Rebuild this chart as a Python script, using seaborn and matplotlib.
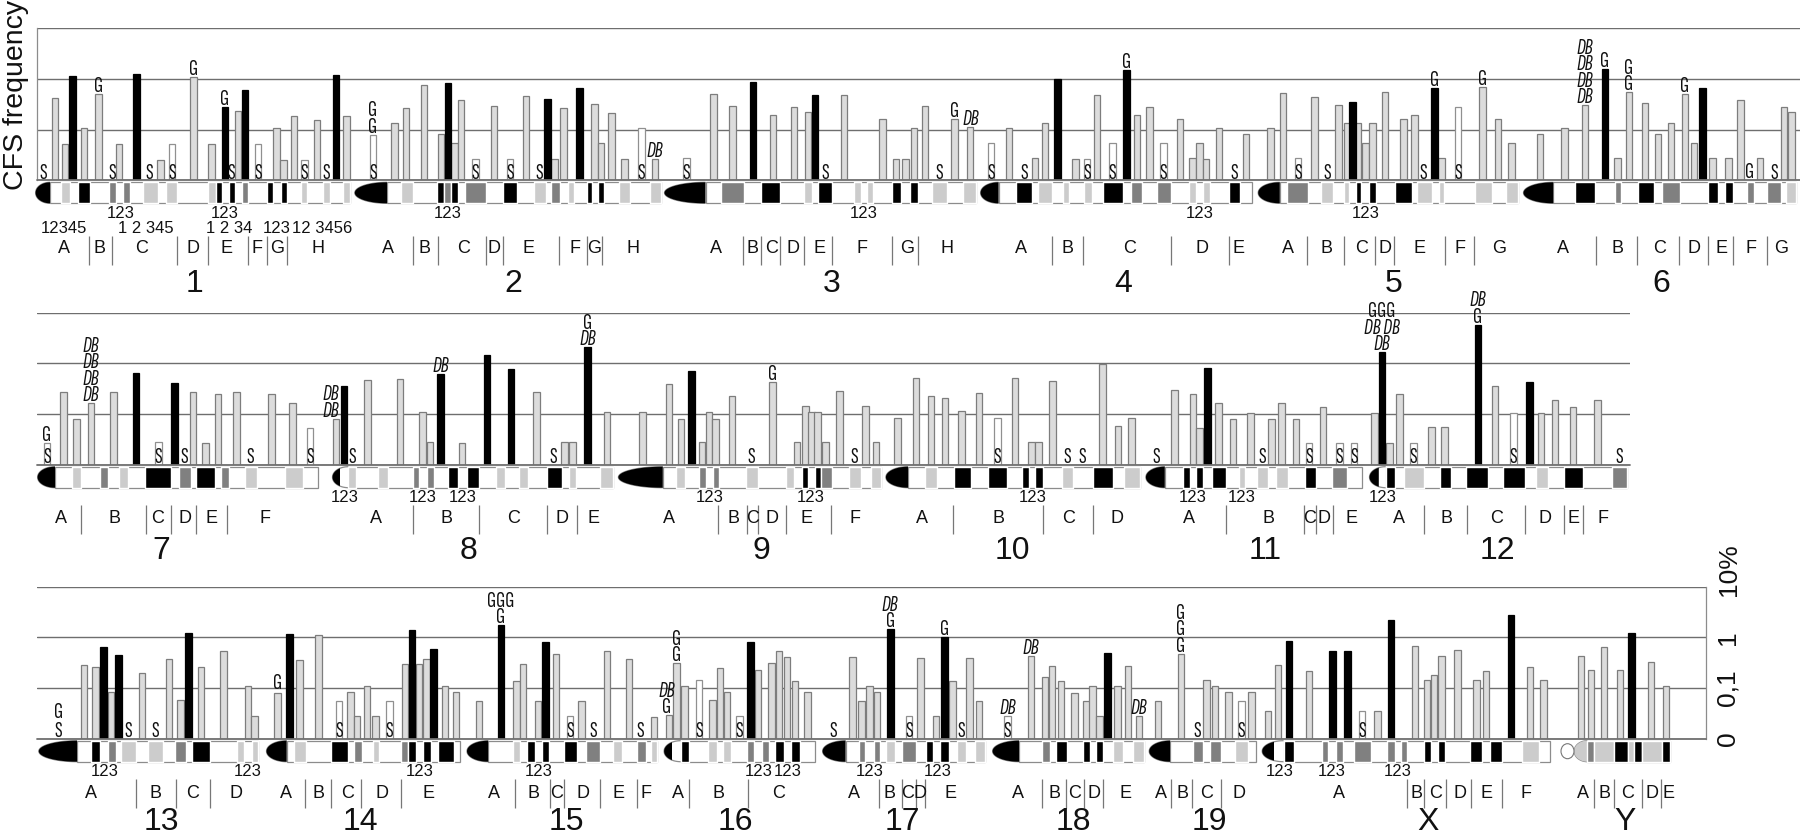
import numpy as np
import pandas as pd
import matplotlib
matplotlib.use("Agg")
import matplotlib.pyplot as plt
from matplotlib.patches import Polygon, Ellipse, Rectangle
import seaborn as sns

# 1. DATA
# freq = reading on the axis, 0 = "0", 1 = "0,1", 2 = "1", 3 = "10%"
# pos = place along the row of chromosomes

# ---- top row, chromosomes 1-6
row1_pos = [55.1, 65, 72.7, 83.8, 98.7, 119, 136.2, 160.7, 171.8, 193.3, 211.6, 225, 238, 244.9, 258, 276.7, 283.2, 293.9, 304.2, 316.9, 336, 346.3,
            372.8, 394.2, 406, 424, 440.9, 447.8, 454.3, 460.8, 475.3, 494, 509.8, 525.8, 547.6, 554.5, 563.3, 579.4, 594.7, 601, 611.3, 624.3, 641.6, 655,
            686.7, 713.5, 732.3, 752.9, 772.8, 793.9, 808, 814.9, 844, 882.3, 896, 905.2, 914, 925.1, 954.6, 969.9,
            991, 1009, 1035, 1044.9, 1057.6, 1075.5, 1087, 1097, 1112.7, 1126.4, 1136.8, 1149.4, 1163.2, 1179.9, 1192.7, 1199.3, 1206, 1218.8, 1245.8,
            1270.2, 1283.1, 1298, 1314.6, 1338.2, 1346.9, 1352.7, 1358.1, 1365.2, 1372.6, 1385, 1403.3, 1414.5, 1434.4, 1441.5, 1458, 1482.5, 1497.8, 1511.5,
            1540.1, 1564.6, 1584.9, 1604.8, 1617.7, 1628.9, 1645, 1657.9, 1670.8, 1684.8, 1694, 1702.2, 1712.6, 1728.4, 1740.4, 1759.9, 1783.9, 1791.4]
row1_freq = [1.62, .71, 2.06, 1.03, 1.70, .71, 2.10, .41, .71, 2.03, .71, 1.45, 1.37, 1.78, .71, 1.03, .41, 1.26, .41, 1.19, 2.07, 1.26,
             .90, 1.13, 1.43, 1.89, .91, 1.93, .73, 1.58, .43, 1.46, .43, 1.66, 1.61, .43, 1.43, 1.82, 1.51, .73, 1.32, .42, 1.03, .42,
             .44, 1.70, 1.47, 1.95, 1.28, 1.44, 1.34, 1.69, 1.68, 1.21, .43, .43, 1.04, 1.47, 1.22, 1.05,
             .73, 1.03, .44, 1.13, 2.0, .43, .43, 1.69, .73, 2.17, 1.28, 1.44, .73, 1.21, .44, .73, .43, 1.03, .91,
             1.04, 1.72, .44, 1.64, 1.48, 1.14, 1.55, 1.14, .73, 1.14, 1.74, 1.21, 1.28, 1.82, .44, 1.44, 1.84, 1.21, .73,
             .91, 1.04, 1.48, 2.19, .44, 1.74, 1.52, .91, 1.14, 1.70, .74, 1.82, .44, .44, 1.59, .44, 1.44, 1.34]
row1_black = [72.7, 136.2, 225, 244.9, 336, 447.8, 547.6, 579.4, 752.9, 814.9, 1057.6, 1126.4, 1352.7, 1434.4, 1604.8, 1702.2]
row1_white = [171.8, 258, 304.2, 372.8, 475.3, 509.8, 641.6, 686.7, 991, 1087, 1112.7, 1163.2, 1298, 1458]
row1_s_only = [42.9, 112, 149.6, 231.5, 326, 539.6, 824.9, 938.9, 1023.9, 1234.2, 1327, 1423.6, 1774]
row1_stacks = [(98.7, 1.70, ["G"]), (193.3, 2.03, ["G"]), (225, 1.45, ["G"]), (372.8, .90, ["G", "G"]), (655, .42, ["DB"]),
               (954.6, 1.22, ["G"]), (970.7, 1.05, ["DB"]), (1126.4, 2.17, ["G"]), (1434.4, 1.82, ["G"]), (1482.5, 1.84, ["G"]),
               (1584.9, 1.48, ["DB", "DB", "DB", "DB"]), (1604.8, 2.19, ["G"]), (1628.9, 1.74, ["G", "G"]), (1684.8, 1.70, ["G"]), (1749.9, 0, ["G"])]
# start, end, shade of the ideogram bands
row1_bands = [(61.2, 69.7, "l"), (78, 89.6, "k"), (109, 116.3, "m"), (122.8, 130, "m"), (142.7, 157.7, "l"), (165.7, 177.2, "l"), (208, 215.5, "l"), (215.5, 222, "k"), (228.5, 234.6, "k"), (241.9, 248, "m"), (267, 273.2, "k"), (280.5, 287, "k"), (301.2, 307, "l"), (323, 330, "l"), (343.3, 350, "l"),
              (400.7, 412.6, "l"), (437.4, 443.9, "k"), (443.9, 451.2, "m"), (451.2, 457.7, "k"), (464.6, 486, "m"), (502.9, 517, "k"), (533.5, 546, "l"), (551, 559.5, "m"), (568, 573.7, "l"), (586.7, 592.4, "k"), (597.6, 604.4, "k"), (618.6, 629.7, "l"), (649.6, 661, "l"),
              (721.2, 744.1, "m"), (761.4, 780.1, "k"), (804.2, 811.9, "l"), (817.6, 832.2, "k"), (853.6, 860.5, "l"), (866.6, 872.7, "l"), (891.9, 900.6, "k"), (910.2, 918.3, "k"), (932.4, 946.6, "l"), (963.4, 975.7, "l"),
              (1015.8, 1032.3, "k"), (1037.7, 1051.8, "l"), (1063.3, 1068.7, "l"), (1083.6, 1091.6, "l"), (1102.7, 1122.6, "k"), (1131, 1142.1, "m"), (1156.5, 1170.6, "m"), (1189.4, 1196, "l"), (1203, 1209.7, "l"), (1228.8, 1240, "k"),
              (1287.2, 1307.5, "m"), (1321.2, 1332.8, "l"), (1344, 1349.4, "l"), (1355.6, 1361.4, "k"), (1368.9, 1375.5, "k"), (1395, 1412, "k"), (1417.4, 1431.9, "l"), (1438.6, 1444.4, "l"), (1475, 1491.6, "l"), (1505.7, 1517.7, "l"),
              (1575.4, 1595.3, "k"), (1614.8, 1621.4, "m"), (1637.6, 1654.2, "k"), (1662.4, 1679.9, "m"), (1708, 1717.6, "k"), (1724.6, 1733.3, "k"), (1747, 1753.7, "m"), (1766.9, 1781, "m"), (1786, 1796, "l")]
# start, end, end of black cap, end of round tip
row1_chroms = [(35.6, 350, 50, 50), (354.8, 661, 387, 387), (664.5, 975.7, 705.5, 705.5), (980.6, 1251.6, 998.6, 998.6), (1258.2, 1517.7, 1279.8, 1279.8), (1523.5, 1796, 1553.4, 1553.4)]
row1_seps = [89.2, 111.7, 177.2, 208.2, 247.6, 266.7, 287, 412.6, 437.8, 485.7, 502.9, 559.1, 587.3, 601.8,
             743.4, 761, 779.7, 804.2, 831.8, 892.2, 917.9, 1051.8, 1082.8, 1170.7, 1228.8,
             1307.1, 1344, 1375.1, 1394.2, 1444.8, 1473.8, 1595.7, 1637.2, 1679.4, 1708, 1732.9, 1767.3]
row1_letters = list("ABCDEFGH") + list("ABCDEFGH") + list("ABCDEFGH") + list("ABCDE") + list("ABCDEFG") + list("ABCDEFG")
row1_letter_pos = [64.3, 99.9, 142, 192.5, 226.9, 256.8, 276.7, 318.4, 388, 424.8, 463.4, 494.4, 528.9, 574.8, 594.5, 633.1,
                   715.8, 752.9, 771.7, 793.1, 819.1, 862, 906.8, 947, 1021.2, 1067.1, 1129.9, 1202.2, 1238.7,
                   1287.6, 1326.6, 1361.4, 1384.7, 1419.5, 1460.5, 1498.7, 1562.5, 1617.2, 1659.5, 1694, 1721.3, 1750.7, 1781]
row1_names = ["1", "2", "3", "4", "5", "6"]
row1_name_pos = [194, 513, 832, 1123, 1394, 1661]
row1_sub_pos = [121, 225, 448, 863.5, 1199.8, 1365.2]
row1_sub2 = ["12345", "1 2 345", "1 2 34", "123", "12 3456"]
row1_sub2_pos = [64.3, 146.2, 228.9, 276.5, 322.5]

# ---- middle row, chromosomes 7-12
row2_pos = [47, 63.7, 76.7, 90.9, 113.5, 136, 158.2, 174.4, 193, 205.6, 217.9, 236.5, 271.6, 292.2, 310,
            336.1, 344, 367.7, 399.8, 422.7, 429.8, 440.5, 461.8, 486.8, 510.9, 536.6, 564.6, 572.2, 587.6, 607,
            642.5, 668.9, 680.8, 691.5, 701.8, 709.1, 715.2, 732.1, 772.3, 796.8, 805.2, 811.3, 817.4, 825.5, 839.6, 865.6, 876,
            897.4, 915.8, 931.1, 944.9, 961.7, 978.9, 997.3, 1014.9, 1031.7, 1038.6, 1052.4, 1102.5, 1117.8, 1131.6,
            1174.4, 1193, 1199.7, 1207.3, 1218.6, 1232.8, 1250.4, 1271.3, 1281.2, 1295.8, 1309.1, 1323, 1339.3, 1353.9,
            1374.4, 1382.1, 1389.7, 1399.7, 1413.2, 1431.5, 1444.4, 1477.9, 1494.8, 1513.4, 1529.3, 1540.9, 1554.9, 1572.8, 1597.7]
row2_freq = [.43, 1.43, .91, 1.21, 1.43, 1.82, .44, 1.61, 1.43, .43, 1.39, 1.43, 1.39, 1.21, .73,
             .91, 1.55, 1.68, 1.70, 1.05, .44, 1.80, .43, 2.17, 1.89, 1.44, .44, .44, 2.32, 1.05,
             1.05, 1.59, .91, 1.85, .45, 1.05, .91, 1.35, 1.64, .45, 1.15, 1.05, 1.05, .45, 1.45, 1.15, .45,
             .93, 1.72, 1.36, 1.31, 1.06, 1.41, .93, 1.72, .45, .45, 1.66, 1.98, .76, .93,
             1.47, 1.39, .73, 1.91, 1.21, .91, 1.03, .91, 1.21, .91, .43, 1.13, .43, .43,
             1.03, 2.22, .43, 1.39, .43, .74, .74, 2.76, 1.55, 1.03, 1.64, 1.03, 1.28, 1.13, 1.28]
row2_black = [136, 174.4, 344, 440.5, 486.8, 510.9, 587.6, 691.5, 1207.3, 1382.1, 1477.9, 1529.3]
row2_white = [47, 158.2, 310, 997.3, 1309.1, 1339.3, 1353.9, 1413.2, 1513.4]
row2_s_only = [183.9, 250.7, 351.9, 553.6, 751.6, 854.2, 1067.3, 1082.6, 1156.2, 1262, 1619.6]
row2_stacks = [(47, .43, ["G"]), (90.9, 1.21, ["DB", "DB", "DB", "DB"]), (331, .91, ["DB", "DB"]), (440.5, 1.80, ["DB"]), (587.6, 2.32, ["DB", "G"]),
               (772.3, 1.64, ["G"]), (1382, 2.22, ["DB", "DB DB", "GGG"]), (1477.9, 2.76, ["G", "DB"])]
row2_bands = [(72.4, 81, "l"), (100.4, 108.3, "m"), (119.4, 128.1, "l"), (145.1, 170.8, "k"), (178.7, 190.6, "m"), (195.7, 214.7, "k"), (221, 228.5, "m"), (245.2, 257.4, "l"), (284.7, 302.9, "l"),
              (348.4, 356.3, "l"), (378.4, 387.9, "l"), (412.8, 419.1, "m"), (426.6, 433.8, "m"), (447.6, 457.5, "k"), (467, 478.5, "k"), (495.5, 504.6, "l"), (518.8, 527.5, "l"), (546.9, 561.5, "k"), (569, 575.7, "l"), (600.2, 612.5, "l"),
              (676.2, 684.6, "l"), (698.8, 705.7, "m"), (712.6, 718.7, "m"), (746.2, 757.7, "l"), (786, 794.1, "l"), (801.7, 808.2, "k"), (814.7, 820.9, "k"), (820.9, 832, "m"), (849.2, 860.7, "l"), (871.4, 880.6, "l"),
              (925.3, 937.2, "l"), (954, 970.5, "k"), (988.1, 1007.2, "k"), (1021.8, 1028.7, "k"), (1035.2, 1042.5, "k"), (1061.6, 1073.4, "l"), (1093, 1112.9, "k"), (1124.4, 1140, "l"),
              (1182.7, 1190, "k"), (1196.3, 1203.3, "k"), (1211.6, 1225.5, "k"), (1238.8, 1245.1, "l"), (1256.7, 1268, "l"), (1275.6, 1287.9, "l"), (1304.5, 1315.7, "k"), (1332.3, 1346.9, "m"),
              (1385.7, 1395, "k"), (1404.3, 1423.9, "l"), (1439.5, 1451, "k"), (1466.3, 1488.2, "k"), (1502.5, 1524.7, "k"), (1536.3, 1547.6, "l"), (1564.2, 1583, "k"), (1611.9, 1627.2, "m")]
row2_chroms = [(37.6, 317.5, 55, 55), (332.5, 612.5, 340, 348.4), (618.4, 880.6, 662.8, 662.8), (885.9, 1140, 908.1, 908.1), (1145.9, 1362.2, 1164.8, 1164.8), (1369.5, 1627.2, 1378.8, 1385.7)]
row2_seps = [81, 145.5, 170.8, 195.7, 227, 413.2, 478.8, 546.5, 576.5, 718.3, 746.6, 758.1, 786, 831.2, 953.3, 1042.8, 1092.6,
             1225.9, 1304.1, 1315.7, 1332.7, 1423.9, 1467.3, 1524.7, 1564.2, 1583.4]
row2_letters = list("ABCDEF") + list("ABCDE") + list("ABCDEF") + list("ABCD") + list("ABCDE") + list("ABCDEF")
row2_letter_pos = [60.5, 114.7, 157.4, 184.7, 211.1, 265.3, 376, 446.8, 513.6, 562.3, 593.9, 668.6, 733.2, 752.4, 772.3, 806.3, 855.3,
                   921.5, 998.4, 1068.1, 1117.5, 1189.4, 1268.3, 1309.8, 1324, 1351.2, 1399, 1446.1, 1496.5, 1544.6, 1573.8, 1603.3]
row2_names = ["7", "8", "9", "10", "11", "12"]
row2_name_pos = [161, 468.5, 761, 1012.6, 1265, 1497]
row2_sub_pos = [344.8, 423.1, 462.2, 709.9, 810.9, 1032.5, 1193, 1241.8, 1383]

# ---- bottom row, chromosomes 13-19, X, Y
row3_pos = [83.8, 95.3, 103.6, 111.1, 118.6, 142, 168.8, 180.3, 188.6, 200.9, 223.4, 247.9, 254.6,
            277.2, 289.4, 299.3, 318.7, 338.9, 350.3, 357, 366.9, 375.6, 389.5, 404.9, 412, 419.1, 426.2, 433.4, 444.8, 455.9,
            478.8, 501, 516.4, 523.1, 537.8, 545.3, 555.9, 569.8, 581.7, 607, 628.9, 653.8,
            668.8, 676.3, 684.6, 698.9, 712.3, 719.8, 726.9, 739.2, 750.7, 757.8, 771.6, 779.1, 787, 794.9, 807.6,
            852.7, 861.4, 869.7, 876.8, 890.2, 908.8, 920.3, 936.1, 944.4, 952.3, 969.7, 978.8,
            1007.3, 1031, 1044.8, 1052, 1061, 1074.5, 1086.4, 1092.7, 1099.4, 1107.7, 1117.6, 1127.9, 1139,
            1157.9, 1180.9, 1206.2, 1214.9, 1228.6, 1241.7, 1251.6,
            1267.8, 1278.1, 1289.1, 1308.9, 1332.2, 1347.7, 1361.9, 1377.7, 1391.1, 1414.9, 1427.1, 1433.9, 1441.4, 1457.2, 1476.2, 1486, 1511, 1530, 1543.4,
            1581, 1590.8, 1603.9, 1620.1, 1631.2, 1651, 1666]
row3_freq = [1.45, 1.41, 1.82, .93, 1.66, 1.30, 1.57, .76, 2.09, 1.41, 1.74, 1.05, .45,
             .91, 2.07, 1.56, 2.04, .74, .92, .44, 1.05, .44, .74, 1.48, 2.14, 1.48, 1.57, 1.78, 1.05, .92,
             .74, 2.24, 1.13, 1.48, .74, 1.91, 1.67, .44, .74, 1.74, 1.58, .43,
             .46, 1.49, 1.05, 1.15, .76, 1.40, .93, .45, 1.91, 1.35, 1.50, 1.74, 1.62, 1.14, .93,
             1.62, .75, 1.05, .93, 2.16, .45, 1.60, .45, 2.0, 1.14, 1.60, .75,
             .45, 1.64, 1.22, 1.44, 1.14, .91, .75, 1.05, .44, 1.69, 1.05, 1.44, .44,
             .75, 1.68, 1.15, 1.05, .93, .75, .93,
             .55, 1.46, 1.93, 1.34, 1.74, 1.74, .55, .55, 2.34, 1.84, 1.16, 1.26, 1.64, 1.76, 1.16, 1.33, 2.44, 1.41, 1.16,
             1.64, 1.36, 1.82, 1.36, 2.09, 1.52, 1.05]
row3_black = [103.6, 118.6, 188.6, 289.4, 412, 433.4, 501, 545.3, 750.7, 890.2, 944.4, 1107.7, 1289.1, 1332.2, 1347.7, 1391.1, 1511, 1631.2]
row3_white = [338.9, 389.5, 569.8, 698.9, 739.2, 908.8, 1007.3, 1241.7, 1361.9]
row3_s_only = [58.5, 128.5, 155, 593.1, 640.7, 833.7, 961.4, 1197.5]
row3_stacks = [(58.5, .37, ["G"]), (277.2, .95, ["G"]), (501, 2.24, ["G", "GGG"]), (667, .46, ["G", "DB"]), (676.3, 1.49, ["G", "G"]),
               (890.2, 2.16, ["G", "DB"]), (944.4, 2.0, ["G"]), (1007.3, .45, ["DB"]), (1031, 1.64, ["DB"]), (1139, .44, ["DB"]), (1180.9, 1.68, ["G", "G", "G"])]
row3_bands = [(90.9, 100, "k"), (107.6, 115.9, "m"), (121.4, 135.6, "l"), (148.3, 162.5, "l"), (175.2, 185.8, "m"), (191.8, 209.6, "k"), (236.5, 244, "l"), (251.9, 257.8, "l"),
              (293.8, 305.7, "l"), (330.6, 347.6, "k"), (353.5, 362.2, "m"), (372.9, 378.8, "l"), (401, 408.1, "m"), (408.1, 415.6, "k"), (423.1, 430.6, "k"), (437.7, 453.5, "k"),
              (513.3, 519.6, "l"), (527.1, 535, "k"), (541.7, 549.2, "k"), (563.5, 577.3, "k"), (586.4, 600.2, "m"), (613.4, 621.7, "l"), (637.2, 645.9, "m"), (650.6, 656.9, "l"),
              (680.7, 688.6, "k"), (708.3, 717, "l"), (723, 731.3, "l"), (747.1, 754.2, "m"), (761.7, 768.8, "m"), (774.8, 783.9, "k"), (791.4, 799.7, "k"),
              (859, 864.9, "m"), (873.6, 879.6, "m"), (886.3, 895, "l"), (901.7, 915.9, "m"), (925.8, 933.3, "k"), (940, 949.2, "k"), (957, 965.8, "l"), (974.5, 984.7, "l"),
              (1041.7, 1050.4, "m"), (1055.5, 1066.6, "k"), (1083.2, 1089.9, "k"), (1095.9, 1102.6, "k"), (1113.3, 1122.7, "l"), (1133.4, 1143.7, "l"),
              (1192.5, 1203, "m"), (1210, 1221, "m"), (1235.4, 1248, "l"),
              (1283.6, 1294.3, "k"), (1322, 1327.9, "m"), (1336.2, 1342.5, "m"), (1354, 1371, "m"), (1387.2, 1395.1, "m"), (1401, 1407.4, "m"), (1424, 1431.1, "k"), (1437.8, 1444.9, "k"), (1470.2, 1482.1, "k"), (1489.6, 1501.5, "k"), (1521.6, 1538.6, "l"),
              (1587.3, 1594.4, "m"), (1594.4, 1613.8, "l"), (1613.8, 1628.4, "k"), (1628.4, 1633.9, "l"), (1633.9, 1641.9, "k"), (1641.9, 1661.6, "l"), (1661.6, 1670.3, "k")]
row3_chroms = [(38.8, 257.8, 77.1, 77.1), (266.5, 459.5, 286.7, 286.7), (467, 657, 488.3, 488.3), (664.1, 815.1, 672, 680.7), (822.6, 984.7, 845.6, 845.6),
               (992.6, 1143.7, 1019.1, 1019.1), (1149.2, 1255.5, 1170.2, 1170.2), (1262.2, 1549.7, 1274, 1283.6)]
row3_y_arm = (1574.2, 1670.3, 1587.3, 1587.3)
row3_y_dot = 1567.5
row3_seps = [135.6, 175.6, 210, 305.3, 331.4, 361.4, 401.3, 514.8, 550, 563.5, 600.2, 636.8, 688.6, 747.5, 879.2, 901.7, 915.9, 925.4,
             1041.7, 1065.8, 1083.6, 1102.6, 1170.6, 1192.3, 1221.1, 1407.4, 1424.4, 1445.7, 1471, 1501.5, 1594.4, 1613.8, 1642.2, 1661.2]
row3_letters = list("ABCD") + list("ABCDE") + list("ABCDEF") + list("ABC") + list("ABCDE") + list("ABCDE") + list("ABCD") + list("ABCDEF") + list("ABCDE")
row3_letter_pos = [90.5, 155.8, 193, 236.1, 286.3, 318.3, 347.2, 381.6, 428.6, 493.5, 533.4, 556.7, 582.5, 618.6, 646.3, 677.5, 719, 778.7,
                   853.5, 889.8, 907.6, 920.3, 950, 1018, 1054.3, 1074.9, 1094.3, 1125.5, 1160.7, 1182.4, 1206.1, 1238.5,
                   1339, 1416, 1435.4, 1460.3, 1486.8, 1526, 1583.3, 1605, 1627.6, 1652.1, 1668]
row3_names = ["13", "14", "15", "16", "17", "18", "19", "X", "Y"]
row3_name_pos = [161, 360, 566.6, 735, 902.5, 1073.7, 1208.9, 1427.9, 1625.2]
row3_sub_pos = [104.4, 247.9, 419.5, 538.2, 758.2, 787.8, 869.7, 937.3, 1279.2, 1331.4, 1397.5]

tick_levels = [0, 1, 2, 3]
tick_labels = ["0", "0,1", "1", ""]
top_tick_label = "10%"

# 2. STYLE
W, H = 1800, 836
UNIT = 50.65
BAR_W = 6.6
FLAG_SIZE = 16
SHADES = {"k": "#000000", "m": "#808080", "l": "#cccccc"}
TXT = "#111111"

sns.set_theme(style="white", rc={"axes.grid": False})
plt.rcParams["font.family"] = ["Liberation Sans", "DejaVu Sans"]
NARROW = ["Sofia Sans Extra Condensed", "Liberation Sans Narrow", "Liberation Sans"]


def draw_bars(ax, df, color, edge):
    # native_scale width is relative to the smallest gap between positions
    gaps = np.diff(np.unique(df["pos"]))
    step = gaps.min() if len(gaps) else 1
    sns.barplot(data=df, x="pos", y="freq", native_scale=True, orient="x", width=BAR_W / step,
                color=color, saturation=1, edgecolor=edge, linewidth=0.9, errorbar=None, ax=ax)


def draw_ideogram(ax, chrom, bands, cap_color="black"):
    start, end, cap_end, tip_end = chrom
    y0, y1 = -23 / UNIT, -2 / UNIT
    mid, half = (y0 + y1) / 2, (y1 - y0) / 2
    ax.add_patch(Rectangle((tip_end, y0), end - tip_end, y1 - y0, fc="white", ec="#8c8c8c", lw=0.9, clip_on=False))
    t = np.linspace(np.pi / 2, 3 * np.pi / 2, 50)
    xs = tip_end + (tip_end - start) * np.cos(t)
    ys = mid + half * np.sin(t)
    ax.add_patch(Polygon(np.c_[xs, ys], closed=False, fc="white", ec="#8c8c8c", lw=0.9, clip_on=False))
    ax.add_patch(Polygon(np.c_[np.minimum(xs, cap_end), ys], fc=cap_color, ec="none", clip_on=False))
    inside = [b for b in bands if start <= b[0] and b[1] <= end]
    ax.broken_barh([(b[0], b[1] - b[0]) for b in inside], (y0, y1 - y0),
                   facecolors=[SHADES[b[2]] for b in inside], clip_on=False, zorder=3)


def draw_row(ax, pos, freq, black, white, s_only, stacks, bands, chroms, seps, letters, letter_pos,
             names, name_pos, sub_pos, x_max, letter_off, sep_off, name_off):
    df = pd.DataFrame({"pos": pos, "freq": freq})
    df["kind"] = "grey"
    df.loc[df["pos"].isin(white), "kind"] = "white"
    df.loc[df["pos"].isin(black), "kind"] = "black"
    draw_bars(ax, df[df["kind"] == "white"], "white", "#909090")
    draw_bars(ax, df[df["kind"] == "grey"], "#dcdcdc", "#7d7d7d")
    draw_bars(ax, df[df["kind"] == "black"], "black", "black")

    ax.set_xlim(36.5, x_max)
    ax.set_ylim(0, 3)
    ax.set_xlabel("")
    ax.set_ylabel("")
    ax.set_xticks([])
    ax.set_yticks(tick_levels)
    ax.set_yticklabels([])
    ax.tick_params(axis="y", length=0)
    ax.set_axisbelow(True)
    ax.grid(axis="y", color="#6e6e6e", lw=1.0)
    for side in ax.spines:
        ax.spines[side].set_visible(False)
    ax.axhline(0, color="#707070", lw=1.3, zorder=4, clip_on=False)

    for x in list(s_only) + list(white):
        ax.text(x, 1.5 / UNIT, "S", family=NARROW, fontsize=FLAG_SIZE, ha="center", va="baseline", color=TXT, zorder=5)
    for x, top, labels in stacks:
        for i, lab in enumerate(labels):
            is_db = "DB" in lab
            ax.text(x, top + (2 + 16.5 * i) / UNIT, lab, family=NARROW, fontsize=FLAG_SIZE, ha="center", va="baseline",
                    style="italic" if is_db else "normal", color=TXT, zorder=5)

    for chrom in chroms:
        draw_ideogram(ax, chrom, bands)

    ax.vlines(seps, -sep_off[1] / UNIT, -sep_off[0] / UNIT, color="#777777", lw=0.9, clip_on=False)
    for x, lab in zip(letter_pos, letters):
        ax.text(x, -letter_off / UNIT, lab, fontsize=13, ha="center", va="center", color=TXT)
    for x, lab in zip(name_pos, names):
        ax.text(x, -name_off / UNIT, lab, fontsize=23, ha="center", va="center", color=TXT)
    for x in sub_pos:
        ax.text(x, -33 / UNIT, "123", fontsize=12, ha="center", va="center", color=TXT)


def row_axes(x_max, baseline):
    height = 3 * UNIT
    return fig.add_axes([36.5 / W, 1 - baseline / H, (x_max - 36.5) / W, height / H])


# 3. DRAW
fig = plt.figure(figsize=(18, 8.36), dpi=100)
ax1 = row_axes(1800, 180.3)
ax2 = row_axes(1629.5, 464.7)
ax3 = row_axes(1706, 738.7)

draw_row(ax1, row1_pos, row1_freq, row1_black, row1_white, row1_s_only, row1_stacks, row1_bands, row1_chroms,
         row1_seps, row1_letters, row1_letter_pos, row1_names, row1_name_pos, row1_sub_pos, 1800, 68, (56, 85), 104)
draw_row(ax2, row2_pos, row2_freq, row2_black, row2_white, row2_s_only, row2_stacks, row2_bands, row2_chroms,
         row2_seps, row2_letters, row2_letter_pos, row2_names, row2_name_pos, row2_sub_pos, 1629.5, 54, (40, 69), 86)
draw_row(ax3, row3_pos, row3_freq, row3_black, row3_white, row3_s_only, row3_stacks, row3_bands, row3_chroms,
         row3_seps, row3_letters, row3_letter_pos, row3_names, row3_name_pos, row3_sub_pos, 1706, 55, (40, 69), 83.5)

# second line of band numbers, only under chromosome 1
for x, lab in zip(row1_sub2_pos, row1_sub2):
    ax1.text(x, -48 / UNIT, lab, fontsize=12, ha="center", va="center", color=TXT)

# Y chromosome has a grey arm and a small open circle
draw_ideogram(ax3, row3_y_arm, row3_bands, cap_color=SHADES["l"])
ax3.add_patch(Ellipse((row3_y_dot, -12.5 / UNIT), 13, 15 / UNIT, fc="white", ec="#777777", lw=0.8, clip_on=False))

# left axis with its title
ax1.spines["left"].set_visible(True)
ax1.spines["left"].set_color("#8c8c8c")
ax1.spines["left"].set_linewidth(0.9)
ax1.set_ylabel("CFS frequency", fontsize=20.5, loc="bottom", color=TXT)
ax1.yaxis.set_label_coords(-0.0042, -0.064)

# right axis with the scale
ax3.spines["right"].set_visible(True)
ax3.spines["right"].set_color("#8c8c8c")
ax3.spines["right"].set_linewidth(0.9)
ax3.yaxis.tick_right()
ax3.set_yticks(tick_levels)
ax3.set_yticklabels(tick_labels, rotation=90, va="center", fontsize=19, color=TXT)
ax3.tick_params(axis="y", length=0, pad=7, right=False)
ax3.text(1729, 3 - 9 / UNIT, top_tick_label, rotation=90, fontsize=19, ha="center", va="bottom", color=TXT)

fig.savefig("out.png", dpi=100)
